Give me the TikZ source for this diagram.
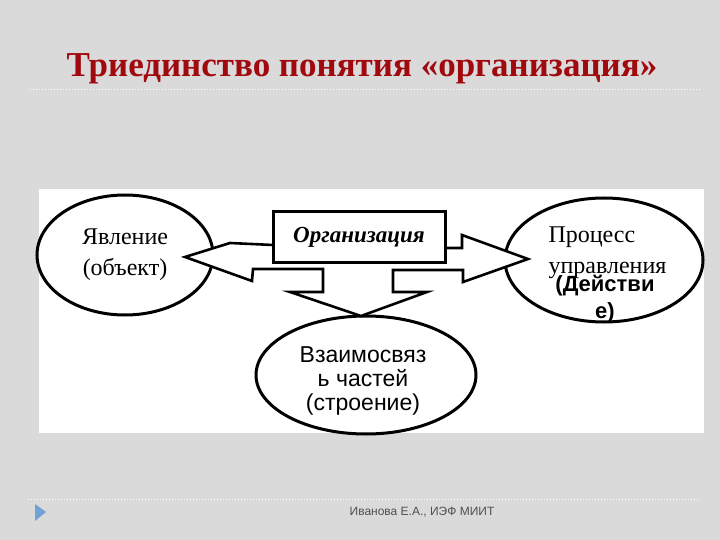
\documentclass[tikz,border=0pt]{standalone}
\usepackage{fontspec}
\setmainfont{Liberation Serif}
\setsansfont{Liberation Sans}
\usetikzlibrary{shapes.geometric,calc}
\definecolor{slidebg}{RGB}{218,218,218}
\definecolor{titlered}{RGB}{160,10,15}
\definecolor{footgray}{RGB}{80,80,80}
\definecolor{tipblue}{RGB}{115,160,215}

\begin{document}
\begin{tikzpicture}[x=1pt, y=-1pt,
    oval/.style={draw, ellipse, line width=3pt, fill=white, inner sep=0pt},
    serif/.style={font=\fontsize{24}{31}\selectfont, align=center},
    sans/.style={font=\sffamily\fontsize{23}{24}\selectfont, align=center},
    blk/.style={draw, line width=2.6pt, fill=white, line join=miter},
    sep/.style={draw=white, line width=1pt, dotted}
  ]
    \fill[slidebg] (0,0) rectangle (720,540);
    \useasboundingbox (0,0) rectangle (720,540);
    \node[font=\bfseries\fontsize{35}{40}\selectfont, text=titlered] (T) at (362,69)
      {Триединство понятия «организация»};
    \draw[sep] (30,90) -- (700,90);
    \fill[white] (39,189) rectangle (704,433);
    \node[oval, serif, minimum width=176, minimum height=120] (Y) at (125,255)
      {Явление\\(объект)};
    \node[oval, minimum width=198, minimum height=124] (P) at (604,260) {};
    \node[oval, minimum width=220, minimum height=118] (V) at (366,375) {};
    \coordinate (tY) at (185,257);
    \coordinate (tV) at (361,316);
    \coordinate (tP) at (528,259);
    \draw[blk] (273,245) -- (230,243) -- (tY) -- (252,281) -- (253,269)
      -- (323,269) -- (323,292) -- (290,292) -- (tV) -- (427,292) -- (393,292)
      -- (393,270) -- (463,270) -- (463,282) -- (tP) -- (462,235) -- (462,248)
      -- (445,248);
    \node[draw, line width=3pt, fill=white, minimum width=172, minimum height=50,
          font=\bfseries\itshape\fontsize{23}{26}\selectfont] (O) at (359,237) {Организация};
    \node[serif, align=left, anchor=west] (Pt) at (545,253) {Процесс\\управления};
    \node[sans, font=\sffamily\bfseries\fontsize{22}{27}\selectfont] (Pd) at (605,299)
      {(Действи\\е)};
    \node[sans] (Vt) at (363,381) {Взаимосвяз\\ь частей\\(строение)};
    \draw[sep] (28,499) -- (700,499);
    \fill[tipblue] (35,504) -- (46,512) -- (35,521) -- cycle;
    \node[font=\sffamily\fontsize{12}{14}\selectfont, text=footgray] (F) at (422,512)
      {Иванова Е.А., ИЭФ МИИТ};
\end{tikzpicture}
\end{document}
